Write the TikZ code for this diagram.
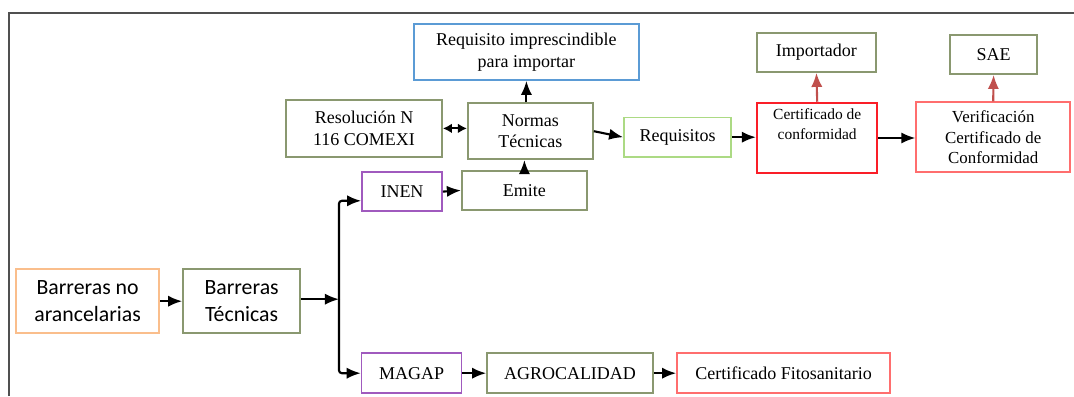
\documentclass[tikz,border=0pt]{standalone}
\usepackage{fontspec}
\setmainfont{Liberation Serif}
\newfontfamily\calibri{Carlito}
\usetikzlibrary{arrows.meta,positioning}
\definecolor{azul}{RGB}{91,155,213}
\definecolor{oliva}{RGB}{138,152,112}
\definecolor{verdeclaro}{RGB}{172,218,132}
\definecolor{morado}{RGB}{160,90,190}
\definecolor{rojo}{RGB}{250,30,40}
\definecolor{rojoclaro}{RGB}{255,110,110}
\definecolor{naranja}{RGB}{250,190,140}
\definecolor{granate}{RGB}{192,80,77}
\definecolor{marco}{RGB}{80,80,80}
\tikzset{%
	caja/.style     = {draw, rectangle, line width=1.2pt, align=center, inner sep=2pt, font=\fontsize{12.8}{15.2}\selectfont},
	cajasans/.style = {caja, font=\calibri\fontsize{15.5}{19}\selectfont},
	flecha/.style   = {line width=1.5pt, -{Latex[length=10pt,width=8pt]}},
	flecharoja/.style = {flecha, granate},
}
\begin{document}
\begin{tikzpicture}
	\useasboundingbox (0,0) rectangle (26.85,-9.9);
	\draw[marco, line width=1.4pt] (0.23,-9.9) -- (0.23,-0.33) -- (26.85,-0.33);  % marco
	% cajas
	\node[cajasans, draw=naranja, minimum width=3.58cm, minimum height=1.6cm] (bna) at (2.19,-7.53) {Barreras no\\arancelarias};
	\node[cajasans, draw=oliva, minimum width=2.93cm, minimum height=1.6cm] (bt) at (6.04,-7.53) {Barreras\\Técnicas};
	\node[caja, draw=morado, minimum width=2cm, minimum height=0.98cm] (inen) at (10.05,-4.79) {INEN};
	\node[caja, draw=oliva, minimum width=3.13cm, minimum height=0.98cm] (emite) at (13.11,-4.76) {Emite};
	\node[caja, draw=oliva, minimum width=3.13cm, minimum height=1.4cm] (normas) at (13.26,-3.28) {Normas\\Técnicas};
	\node[caja, draw=oliva, minimum width=3.9cm, minimum height=1.43cm] (resol) at (9.10,-3.21) {Resolución N\\116 COMEXI};
	\node[caja, draw=azul, minimum width=5.63cm, minimum height=1.4cm] (req) at (13.16,-1.30) {Requisito imprescindible\\para importar};
	\node[caja, draw=verdeclaro, minimum width=2.68cm, minimum height=0.98cm] (requisitos) at (16.94,-3.43) {Requisitos};
	\node[caja, draw=rojo, line width=1.8pt, minimum width=3cm, minimum height=1.75cm, font=\fontsize{11}{14}\selectfont] (cert) at (20.43,-3.45) {Certificado de\\conformidad\\[6pt]};
	\node[caja, draw=oliva, minimum width=2.98cm, minimum height=0.98cm] (importador) at (20.41,-1.31) {Importador};
	\node[caja, draw=rojoclaro, minimum width=3.85cm, minimum height=1.75cm, font=\fontsize{12}{14.6}\selectfont] (verif) at (24.83,-3.43) {Verificación\\Certificado de\\Conformidad};
	\node[caja, draw=oliva, minimum width=2.18cm, minimum height=0.98cm] (sae) at (24.84,-1.36) {SAE};
	\node[caja, draw=morado, minimum width=2.5cm, minimum height=1cm] (magap) at (10.29,-9.33) {MAGAP};
	\node[caja, draw=oliva, minimum width=4.15cm, minimum height=1cm] (agro) at (14.25,-9.33) {AGROCALIDAD};
	\node[caja, draw=rojoclaro, minimum width=5.33cm, minimum height=1cm] (fito) at (19.59,-9.33) {Certificado Fitosanitario};
	% conectores
	\coordinate (rama) at (8.475,-7.48);
	\coordinate (rinen) at (8.475,-5.02);
	\draw[flecha] (bna) -- (bt);
	\draw[flecha] (bt.east |- rama) -- (rama);
	\draw[flecha, rounded corners=2pt] (rama) -- (rinen) -- (inen.west |- rinen);
	\draw[flecha, rounded corners=2pt] (rama) |- (magap.west);
	\draw[flecha] (inen.east) -- (emite.west);
	\draw[flecha] (emite.north) -- (emite.north |- normas.south);
	\draw[flecha] (req.south |- normas.north) -- (req.south);
	\draw[line width=1.5pt, {Latex[length=6.5pt,width=7pt]}-{Latex[length=6.5pt,width=7pt]}] (resol.east) -- (resol.east -| normas.west);
	\draw[flecha] (normas.east) -- (requisitos.west);
	\draw[flecha] (requisitos.east) -- (requisitos.east -| cert.west);
	\draw[flecha] (cert.east) -- (cert.east -| verif.west);
	\draw[flecharoja] (cert.north) -- (importador.south);
	\draw[flecharoja] (verif.north) -- (sae.south);
	\draw[flecha] (magap) -- (agro);
	\draw[flecha] (agro) -- (fito);
\end{tikzpicture}
\end{document}
